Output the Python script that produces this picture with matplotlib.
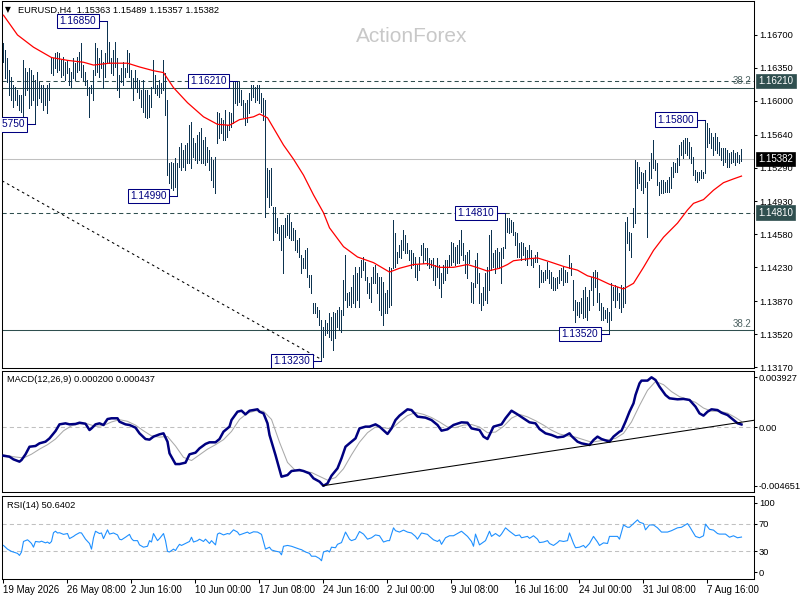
import numpy as np
import matplotlib
matplotlib.use("Agg")
import matplotlib.pyplot as plt
import matplotlib.transforms as mtransforms

plt.rcParams['font.family'] = ['Liberation Sans', 'DejaVu Sans']

# EURUSD H4 bars, oldest first (high / low)
highs = [
    1.1661, 1.1654, 1.1646, 1.1633, 1.1625, 1.1617, 1.1615, 1.1612, 1.1606, 1.1606,
    1.1643, 1.1635, 1.1631, 1.1635, 1.1633, 1.1627, 1.1622, 1.1631, 1.1620, 1.1617,
    1.1617, 1.1614, 1.1617, 1.1619, 1.1647, 1.1646, 1.1651, 1.1652, 1.1651, 1.1643,
    1.1647, 1.1641, 1.1643, 1.1635, 1.1631, 1.1646, 1.1640, 1.1647, 1.1652, 1.1661,
    1.1638, 1.1631, 1.1622, 1.1615, 1.1617, 1.1633, 1.1661, 1.1656, 1.1646, 1.1654,
    1.1641, 1.1651, 1.1685, 1.1663, 1.1646, 1.1654, 1.1663, 1.1646, 1.1627, 1.1635,
    1.1641, 1.1635, 1.1654, 1.1651, 1.1633, 1.1624, 1.1633, 1.1624, 1.1622, 1.1612,
    1.1622, 1.1612, 1.1612, 1.1606, 1.1615, 1.1643, 1.1627, 1.1617, 1.1622, 1.1619,
    1.1643, 1.1630, 1.1601, 1.1534, 1.1535, 1.1534, 1.1539, 1.1534, 1.1551, 1.1555,
    1.1548, 1.1553, 1.1555, 1.1574, 1.1578, 1.1561, 1.1555, 1.1564, 1.1567, 1.1571,
    1.1558, 1.1562, 1.1551, 1.1548, 1.1540, 1.1537, 1.1540, 1.1588, 1.1587, 1.1582,
    1.1580, 1.1590, 1.1574, 1.1588, 1.1587, 1.1620, 1.1620, 1.1621, 1.1620, 1.1612,
    1.1601, 1.1598, 1.1601, 1.1608, 1.1617, 1.1617, 1.1615, 1.1617, 1.1617, 1.1608,
    1.1603, 1.1601, 1.1529, 1.1526, 1.1529, 1.1487, 1.1487, 1.1475, 1.1466, 1.1468,
    1.1468, 1.1475, 1.1479, 1.1480, 1.1471, 1.1465, 1.1463, 1.1452, 1.1454, 1.1436,
    1.1433, 1.1441, 1.1444, 1.1415, 1.1415, 1.1385, 1.1385, 1.1381, 1.1378, 1.1367,
    1.1360, 1.1367, 1.1364, 1.1374, 1.1370, 1.1376, 1.1374, 1.1378, 1.1381, 1.1378,
    1.1410, 1.1436, 1.1396, 1.1397, 1.1402, 1.1415, 1.1423, 1.1417, 1.1423, 1.1431,
    1.1434, 1.1429, 1.1413, 1.1406, 1.1413, 1.1423, 1.1426, 1.1417, 1.1413, 1.1413,
    1.1407, 1.1396, 1.1399, 1.1423, 1.1422, 1.1473, 1.1460, 1.1439, 1.1447, 1.1452,
    1.1463, 1.1457, 1.1449, 1.1441, 1.1441, 1.1438, 1.1434, 1.1426, 1.1434, 1.1447,
    1.1449, 1.1444, 1.1444, 1.1433, 1.1431, 1.1433, 1.1426, 1.1433, 1.1426, 1.1417,
    1.1426, 1.1431, 1.1431, 1.1436, 1.1450, 1.1449, 1.1445, 1.1447, 1.1452, 1.1463,
    1.1449, 1.1436, 1.1439, 1.1441, 1.1407, 1.1406, 1.1431, 1.1438, 1.1417, 1.1396,
    1.1402, 1.1417, 1.1423, 1.1457, 1.1463, 1.1438, 1.1441, 1.1444, 1.1439, 1.1444,
    1.1445, 1.1481, 1.1475, 1.1475, 1.1473, 1.1471, 1.1461, 1.1460, 1.1449, 1.1450,
    1.1449, 1.1445, 1.1441, 1.1447, 1.1441, 1.1433, 1.1436, 1.1439, 1.1426, 1.1420,
    1.1418, 1.1420, 1.1429, 1.1420, 1.1418, 1.1413, 1.1412, 1.1413, 1.1420, 1.1422,
    1.1423, 1.1420, 1.1418, 1.1436, 1.1428, 1.1410, 1.1388, 1.1386, 1.1386, 1.1390,
    1.1399, 1.1402, 1.1391, 1.1399, 1.1413, 1.1418, 1.1420, 1.1418, 1.1396, 1.1385,
    1.1381, 1.1378, 1.1380, 1.1376, 1.1406, 1.1402, 1.1404, 1.1402, 1.1396, 1.1404,
    1.1402, 1.1471, 1.1477, 1.1461, 1.1460, 1.1486, 1.1537, 1.1535, 1.1530, 1.1524,
    1.1523, 1.1526, 1.1514, 1.1535, 1.1545, 1.1558, 1.1537, 1.1534, 1.1514, 1.1516,
    1.1516, 1.1514, 1.1516, 1.1519, 1.1530, 1.1535, 1.1534, 1.1539, 1.1553, 1.1556,
    1.1558, 1.1561, 1.1561, 1.1556, 1.1551, 1.1540, 1.1526, 1.1524, 1.1524, 1.1526,
    1.1524, 1.1580, 1.1576, 1.1571, 1.1566, 1.1562, 1.1566, 1.1562, 1.1556, 1.1550,
    1.1550, 1.1550, 1.1548, 1.1545, 1.1546, 1.1548, 1.1545, 1.1546, 1.1542, 1.15489,
]
lows = [
    1.1641, 1.1624, 1.1620, 1.1606, 1.1601, 1.1593, 1.1601, 1.1596, 1.1590, 1.1588,
    1.1582, 1.1606, 1.1612, 1.1592, 1.1596, 1.1601, 1.1575, 1.1596, 1.1603, 1.1599,
    1.1590, 1.1596, 1.1587, 1.1601, 1.1630, 1.1627, 1.1635, 1.1631, 1.1633, 1.1625,
    1.1627, 1.1622, 1.1630, 1.1617, 1.1615, 1.1624, 1.1622, 1.1631, 1.1633, 1.1625,
    1.1622, 1.1617, 1.1606, 1.1583, 1.1608, 1.1601, 1.1627, 1.1631, 1.1625, 1.1635,
    1.1614, 1.1625, 1.1641, 1.1640, 1.1630, 1.1627, 1.1636, 1.1612, 1.1604, 1.1620,
    1.1617, 1.1625, 1.1631, 1.1625, 1.1614, 1.1601, 1.1614, 1.1609, 1.1603, 1.1593,
    1.1588, 1.1583, 1.1582, 1.1583, 1.1593, 1.1614, 1.1608, 1.1606, 1.1604, 1.1608,
    1.1612, 1.1585, 1.1521, 1.1513, 1.1507, 1.1505, 1.1508, 1.1499, 1.1530, 1.1526,
    1.1530, 1.1526, 1.1534, 1.1534, 1.1529, 1.1540, 1.1537, 1.1534, 1.1537, 1.1534,
    1.1534, 1.1532, 1.1535, 1.1526, 1.1516, 1.1508, 1.1502, 1.1555, 1.1561, 1.1566,
    1.1558, 1.1558, 1.1562, 1.1569, 1.1572, 1.1576, 1.1598, 1.1596, 1.1599, 1.1596,
    1.1583, 1.1574, 1.1578, 1.1587, 1.1601, 1.1604, 1.1599, 1.1601, 1.1598, 1.1588,
    1.1580, 1.1477, 1.1498, 1.1487, 1.1489, 1.1452, 1.1461, 1.1460, 1.1452, 1.1441,
    1.1417, 1.1455, 1.1457, 1.1454, 1.1452, 1.1452, 1.1441, 1.1439, 1.1434, 1.1417,
    1.1422, 1.1422, 1.1413, 1.1402, 1.1396, 1.1374, 1.1374, 1.1370, 1.1362, 1.1323,
    1.1328, 1.1351, 1.1353, 1.1349, 1.1346, 1.1335, 1.1348, 1.1360, 1.1356, 1.1354,
    1.1372, 1.1388, 1.1381, 1.1383, 1.1381, 1.1385, 1.1381, 1.1388, 1.1381, 1.1413,
    1.1420, 1.1410, 1.1396, 1.1390, 1.1386, 1.1406, 1.1406, 1.1396, 1.1378, 1.1372,
    1.1362, 1.1374, 1.1374, 1.1381, 1.1383, 1.1422, 1.1423, 1.1428, 1.1434, 1.1433,
    1.1441, 1.1438, 1.1438, 1.1431, 1.1422, 1.1426, 1.1413, 1.1410, 1.1420, 1.1436,
    1.1428, 1.1431, 1.1426, 1.1422, 1.1423, 1.1410, 1.1404, 1.1413, 1.1401, 1.1391,
    1.1406, 1.1410, 1.1417, 1.1423, 1.1426, 1.1429, 1.1426, 1.1428, 1.1428, 1.1436,
    1.1431, 1.1417, 1.1412, 1.1428, 1.1386, 1.1385, 1.1402, 1.1406, 1.1385, 1.1378,
    1.1383, 1.1388, 1.1385, 1.1399, 1.1420, 1.1423, 1.1417, 1.1423, 1.1422, 1.1406,
    1.1433, 1.1444, 1.1461, 1.1460, 1.1461, 1.1457, 1.1447, 1.1434, 1.1434, 1.1431,
    1.1436, 1.1431, 1.1426, 1.1434, 1.1426, 1.1423, 1.1429, 1.1429, 1.1402, 1.1407,
    1.1407, 1.1410, 1.1412, 1.1406, 1.1401, 1.1399, 1.1399, 1.1401, 1.1406, 1.1410,
    1.1404, 1.1407, 1.1407, 1.1422, 1.1415, 1.1378, 1.1365, 1.1372, 1.1370, 1.1374,
    1.1369, 1.1370, 1.1367, 1.1378, 1.1399, 1.1383, 1.1402, 1.1386, 1.1378, 1.1367,
    1.1367, 1.1369, 1.1365, 1.1352, 1.1367, 1.1388, 1.1381, 1.1388, 1.1380, 1.1376,
    1.1381, 1.1385, 1.1449, 1.1441, 1.1434, 1.1466, 1.1470, 1.1507, 1.1513, 1.1505,
    1.1502, 1.1508, 1.1455, 1.1516, 1.1518, 1.1529, 1.1526, 1.1511, 1.1500, 1.1502,
    1.1502, 1.1503, 1.1503, 1.1503, 1.1507, 1.1519, 1.1524, 1.1524, 1.1532, 1.1542,
    1.1539, 1.1545, 1.1542, 1.1539, 1.1534, 1.1521, 1.1516, 1.1514, 1.1516, 1.1518,
    1.1518, 1.1523, 1.1551, 1.1555, 1.1550, 1.1542, 1.1548, 1.1545, 1.1542, 1.1537,
    1.1532, 1.1535, 1.1530, 1.1530, 1.1534, 1.1535, 1.1532, 1.1535, 1.1534, 1.15357,
]
last_close = 1.15382

# red moving average, sampled along the bars
ma_idx = [0, 7, 15, 24, 32, 40, 45, 53, 62, 68, 75, 80, 85, 92, 100, 107, 113, 118, 125, 128,
          132, 140, 145, 150, 155, 160, 163, 170, 177, 185, 193, 198, 205, 212, 218, 225, 232, 238, 242, 248,
          252, 255, 262, 267, 273, 280, 287, 292, 297, 303, 310, 315, 320, 325, 330, 337, 342, 345, 350, 355,
          360, 365, 369]
ma_val = [1.1691, 1.1670, 1.1657, 1.1646, 1.1643, 1.1641, 1.1638, 1.1640, 1.1640, 1.1636,
          1.1632, 1.1630, 1.1614, 1.1598, 1.1583, 1.1575, 1.1574, 1.1580, 1.1583, 1.1586,
          1.1582, 1.1553, 1.1538, 1.1521, 1.1500, 1.1481, 1.1465, 1.1445, 1.1434, 1.1428,
          1.1418, 1.1422, 1.1426, 1.1427, 1.1423, 1.1423, 1.1426, 1.1422, 1.1419, 1.1422,
          1.1426, 1.1430, 1.1432, 1.1433, 1.1429, 1.1424, 1.1420, 1.1414, 1.1411, 1.1405,
          1.1400, 1.1406, 1.1423, 1.1441, 1.1455, 1.1470, 1.1484, 1.1491, 1.1495, 1.1505,
          1.1513, 1.1517, 1.1520]

# MACD(12,26,9) main line and signal
macd_idx = [0, 3, 5, 8, 9, 11, 13, 16, 18, 21, 23, 26, 28, 31, 33, 36, 38, 41, 43, 44,
            46, 48, 50, 52, 54, 57, 58, 61, 63, 66, 68, 71, 73, 75, 78, 80, 82, 83, 86, 88,
            91, 93, 96, 98, 101, 103, 106, 108, 110, 113, 114, 117, 119, 121, 123, 127, 128, 130, 132, 133,
            136, 139, 142, 144, 148, 150, 153, 155, 158, 160, 162, 164, 167, 169, 171, 173, 176, 178, 181, 183,
            186, 188, 192, 194, 196, 198, 202, 204, 207, 211, 214, 217, 219, 222, 225, 229, 232, 234, 238, 240,
            242, 243, 245, 249, 251, 254, 257, 260, 263, 266, 268, 271, 274, 277, 280, 283, 284, 287, 289, 293,
            295, 297, 299, 303, 305, 308, 309, 311, 313, 315, 316, 318, 319, 322, 324, 326, 328, 331, 333, 337,
            340, 343, 346, 348, 350, 352, 354, 357, 359, 362, 364, 367, 369]
macd_val = [-0.00227, -0.00235, -0.00256, -0.00274, -0.00261, -0.00216, -0.00156, -0.00150, -0.00129, -0.00116,
            -0.00090, -0.00032, 0.00021, 0.00029, 0.00021, 0.00024, 0.00034, 0.00026, -0.00024, -0.00011,
            0.00021, 0.00029, 0.00016, 0.00063, 0.00069, 0.00069, 0.00042, 0.00021, 0.00016, -0.00005,
            -0.00050, -0.00095, -0.00100, -0.00076, -0.00058, -0.00050, -0.00116, -0.00208, -0.00293, -0.00293,
            -0.00282, -0.00216, -0.00203, -0.00169, -0.00134, -0.00121, -0.00121, -0.00095, -0.00037, 0.00003,
            0.00055, 0.00121, 0.00129, 0.00100, 0.00129, 0.00140, 0.00121, 0.00108, 0.00029, -0.00063,
            -0.00222, -0.00393, -0.00380, -0.00348, -0.00340, -0.00348, -0.00367, -0.00406, -0.00432, -0.00465,
            -0.00446, -0.00385, -0.00327, -0.00248, -0.00156, -0.00129, -0.00090, -0.00011, 0.00003, 0.00003,
            0.00021, 0.00003, -0.00055, -0.00011, 0.00055, 0.00090, 0.00140, 0.00134, 0.00082, 0.00074,
            0.00055, 0.00016, -0.00029, -0.00018, 0.00016, 0.00037, 0.00034, -0.00011, -0.00024, -0.00076,
            -0.00095, -0.00063, 0.00003, 0.00021, 0.00069, 0.00129, 0.00100, 0.00069, 0.00037, 0.00029,
            -0.00016, -0.00050, -0.00063, -0.00082, -0.00076, -0.00050, -0.00071, -0.00116, -0.00129, -0.00142,
            -0.00103, -0.00076, -0.00095, -0.00116, -0.00076, -0.00037, -0.00029, 0.00042, 0.00121, 0.00187,
            0.00253, 0.00345, 0.00367, 0.00367, 0.00393, 0.00372, 0.00319, 0.00253, 0.00227, 0.00219,
            0.00222, 0.00214, 0.00161, 0.00108, 0.00090, 0.00121, 0.00140, 0.00134, 0.00113, 0.00095,
            0.00069, 0.00030, 0.00020]
sig_idx = [0, 5] + list(range(10, 367, 4)) + [369]
sig_val = [-0.00220, -0.00235, -0.00245, -0.00215, -0.00175, -0.00140, -0.00095, -0.00030, 0.00010, 0.00025,
           0.00025, 0.00005, 0.00012, 0.00040, 0.00058, 0.00045, 0.00015, -0.00030, -0.00070, -0.00080,
           -0.00075, -0.00150, -0.00240, -0.00265, -0.00220, -0.00175, -0.00140, -0.00100, -0.00035, 0.00060,
           0.00110, 0.00128, 0.00125, 0.00060, -0.00120, -0.00280, -0.00345, -0.00350, -0.00360, -0.00390,
           -0.00420, -0.00400, -0.00330, -0.00220, -0.00120, -0.00045, 0.00000, -0.00005, -0.00015, 0.00040,
           0.00090, 0.00115, 0.00100, 0.00075, 0.00040, 0.00000, -0.00005, 0.00015, 0.00020, 0.00000,
           -0.00045, -0.00040, 0.00005, 0.00070, 0.00100, 0.00080, 0.00050, 0.00015, -0.00025, -0.00055,
           -0.00070, -0.00080, -0.00100, -0.00120, -0.00110, -0.00100, -0.00090, -0.00050, 0.00040, 0.00170,
           0.00290, 0.00360, 0.00335, 0.00280, 0.00240, 0.00220, 0.00195, 0.00150, 0.00125, 0.00125,
           0.00110, 0.00075, 0.00044]

# RSI(14)
rsi_idx = [0, 2, 4, 7, 8, 9, 10, 12, 13, 14, 15, 16, 18, 19, 21, 22, 23, 24, 25, 26,
           27, 28, 30, 32, 33, 35, 36, 38, 39, 41, 43, 44, 45, 46, 48, 49, 50, 52, 53, 55,
           57, 58, 59, 61, 63, 64, 65, 67, 68, 70, 72, 73, 74, 75, 77, 78, 80, 81, 82, 83,
           85, 86, 87, 88, 89, 91, 93, 94, 95, 97, 98, 100, 101, 103, 104, 106, 107, 108, 110, 112,
           113, 115, 117, 118, 120, 122, 123, 125, 127, 129, 131, 133, 134, 136, 138, 139, 140, 142, 144, 146,
           148, 149, 151, 153, 154, 156, 158, 159, 160, 162, 163, 164, 166, 167, 169, 171, 173, 174, 176, 178,
           180, 182, 184, 186, 188, 190, 192, 193, 195, 196, 198, 200, 202, 204, 206, 207, 209, 212, 213, 215,
           217, 218, 219, 221, 223, 225, 227, 229, 232, 234, 235, 236, 238, 239, 241, 243, 244, 246, 248, 249,
           251, 253, 256, 258, 259, 262, 263, 265, 267, 268, 270, 272, 273, 275, 277, 278, 280, 282, 283, 285,
           286, 288, 290, 291, 293, 295, 297, 298, 300, 302, 303, 305, 307, 308, 310, 312, 313, 315, 317, 318,
           320, 321, 323, 325, 327, 329, 332, 334, 337, 339, 342, 343, 346, 348, 350, 351, 353, 355, 357, 358,
           361, 363, 365, 367, 369]
rsi_val = [38.6, 33.3, 30.0, 27.2, 24.3, 29.2, 44.3, 46.7, 44.3, 41.4, 36.1, 44.3, 43.5, 44.7, 42.3, 43.5, 41.4, 44.3, 56.9, 59.0,
           56.5, 56.9, 54.5, 55.7, 48.4, 51.6, 53.7, 56.9, 56.5, 47.6, 41.4, 33.3, 49.6, 59.0, 55.7, 56.5, 48.4, 61.0, 54.9, 56.5,
           53.7, 47.6, 46.7, 50.4, 54.5, 48.4, 45.5, 45.5, 39.4, 36.1, 37.4, 45.5, 43.5, 55.7, 45.5, 48.4, 55.7, 45.5, 30.0, 29.2,
           33.3, 31.2, 36.1, 40.2, 38.6, 41.4, 44.3, 50.4, 43.5, 45.5, 47.6, 44.3, 47.6, 41.4, 45.5, 39.4, 54.9, 56.5, 53.7, 55.7,
           54.9, 61.0, 57.8, 53.7, 55.7, 57.8, 55.7, 58.2, 57.8, 54.5, 33.3, 36.1, 32.1, 30.4, 29.2, 25.1, 37.4, 38.6, 37.4, 35.3,
           33.3, 32.5, 29.2, 27.2, 23.1, 23.1, 19.8, 16.6, 29.2, 31.2, 29.2, 36.1, 35.3, 40.2, 42.7, 57.8, 47.6, 45.5, 47.6, 58.6,
           54.9, 47.6, 49.6, 53.7, 52.5, 43.5, 45.5, 45.5, 63.9, 59.8, 57.8, 60.6, 57.8, 56.5, 51.6, 47.6, 56.5, 54.5, 51.6, 46.7,
           44.3, 46.7, 40.2, 49.6, 52.5, 52.5, 55.7, 59.0, 51.6, 44.3, 37.4, 54.9, 39.4, 41.4, 45.5, 59.0, 51.6, 55.7, 51.6, 54.9,
           63.9, 59.0, 52.5, 53.7, 49.6, 51.6, 48.8, 52.5, 47.6, 42.7, 43.5, 45.5, 41.4, 38.6, 42.7, 45.5, 44.3, 45.5, 56.5, 41.4,
           35.3, 36.1, 38.6, 35.3, 41.4, 51.6, 43.5, 38.6, 42.3, 41.4, 51.6, 51.6, 51.6, 47.6, 68.0, 64.7, 64.7, 70.0, 75.3, 72.0,
           70.0, 61.0, 68.0, 68.0, 63.9, 57.8, 57.8, 59.8, 63.9, 64.7, 70.0, 65.9, 51.6, 49.6, 52.5, 69.2, 61.8, 60.6, 55.7, 54.9,
           54.9, 50.4, 52.5, 49.6, 50.6402]

# time axis
date_pos = [0, 32, 64, 96, 128, 160, 192, 224, 256, 288, 320, 352]
date_labels = ['19 May 2026', '26 May 08:00', '2 Jun 16:00', '10 Jun 00:00', '17 Jun 08:00',
               '24 Jun 16:00', '2 Jul 00:00', '9 Jul 08:00', '16 Jul 16:00', '24 Jul 00:00',
               '31 Jul 08:00', '7 Aug 16:00']

price_ticks = [1.16700, 1.16350, 1.16000, 1.15640, 1.15290, 1.14930,
               1.14580, 1.14230, 1.13870, 1.13520, 1.13170]
macd_ticks = [0.003927, 0.0, -0.004651]
macd_tick_labels = ['0.003927', '0.00', '-0.004651']
rsi_ticks = [100, 70, 30, 0]

# swing highs/lows marked with a price box: (bar index, price)
swing_marks = [(52, 1.16850), (16, 1.15750), (117, 1.16210), (87, 1.14990),
               (159, 1.13230), (251, 1.14810), (303, 1.13520), (351, 1.15800)]

# horizontal levels
fib_upper = 1.16140    # solid, 38.2
fib_lower = 1.13560    # solid, 38.2
dash_levels = [1.16210, 1.14810]
trend_price = [(-0.75, 1.1515), (159, 1.1325)]
trend_macd = [(159.5, -0.00465), (376, 0.00055)]

BAR_COL = '#0d3350'
SLATE = '#2F4F4F'
FS = 6.7

W, H = 800, 600
fig = plt.figure(figsize=(8, 6), dpi=100)
fig.patch.set_facecolor('white')


def px_axes(x0, y0, x1, y1):
    return fig.add_axes([x0 / W, 1 - y1 / H, (x1 - x0) / W, (y1 - y0) / H])


ax = px_axes(2, 1, 754, 368)
ax_m = px_axes(2, 371, 754, 492)
ax_r = px_axes(2, 496, 754, 579)

xlim = (-0.75, 375.25)
for a in (ax, ax_m, ax_r):
    a.set_xlim(*xlim)
    for s in a.spines.values():
        s.set_linewidth(0.75)
        s.set_color('black')
    a.yaxis.tick_right()
    a.tick_params(axis='y', which='both', direction='out', length=2.2, width=0.75,
                  pad=1.3, labelsize=FS, colors='black')
    a.tick_params(axis='x', bottom=False, labelbottom=False)

# ---- price panel
ax.set_ylim(1.13160, 1.17061)
idx = np.arange(len(highs))
blend = mtransforms.blended_transform_factory(ax.transAxes, ax.transData)

ax.axhline(last_close, color='#C0C0C0', lw=0.75, zorder=1)
ax.axhline(fib_upper, color=SLATE, lw=0.75, zorder=1)
ax.axhline(fib_lower, color=SLATE, lw=0.75, zorder=1)
for lv in dash_levels:
    ax.axhline(lv, color=SLATE, lw=0.75, ls=(0, (4, 3)), zorder=1)
ax.plot([p[0] for p in trend_price], [p[1] for p in trend_price],
        color='black', lw=0.75, ls=(0, (2.5, 3)), zorder=2)

ax.vlines(idx, lows, highs, colors=BAR_COL, lw=0.72, antialiased=False, zorder=3)
ax.plot(ma_idx, ma_val, color='#FF0000', lw=0.9, zorder=4)

for lv in (fib_upper, fib_lower):
    ax.annotate('38.2', xy=(1, lv), xycoords=blend, xytext=(-2, 1),
                textcoords='offset points', ha='right', va='bottom',
                fontsize=FS + 0.3, color='#4f6363')

for bi, pr in swing_marks:
    ax.plot([bi - 4.5, bi], [pr, pr], color='#000080', lw=0.75, zorder=5)
    ax.text(bi - 5.6, pr, '%.5f' % pr, ha='right', va='center', fontsize=FS + 0.6,
            color='#000080', zorder=6, clip_on=True,
            bbox=dict(boxstyle='square,pad=0.22', fc='white', ec='#000080', lw=0.75))

ax.set_yticks(price_ticks)
ax.set_yticklabels(['%.5f' % t for t in price_ticks])

# price boxes on the right scale
for pr, bg in [(1.16210, SLATE), (last_close, 'black'), (1.14810, SLATE)]:
    ax.text(1.0055, pr, '%.5f' % pr, transform=blend, ha='left', va='center',
            fontsize=FS + 0.3, color='white', zorder=10, clip_on=False,
            bbox=dict(boxstyle='square,pad=0.25', fc=bg, ec=bg, lw=0.5))

ax.text(0.545, 0.903, 'ActionForex', transform=ax.transAxes, ha='center', va='center',
        fontsize=15, color='#C8C8C8', zorder=0)
fig.text(5 / W, 1 - 10 / H, '\u25bc', fontsize=5.5, va='center', ha='left',
         family=['DejaVu Sans'])
fig.text(18 / W, 1 - 10 / H, 'EURUSD,H4  1.15363 1.15489 1.15357 1.15382',
         fontsize=FS, va='center', ha='left')

# ---- MACD panel
ax_m.set_ylim(-0.00514, 0.00443)
ax_m.axhline(0, color='#C0C0C0', lw=0.75, ls=(0, (4, 3)))
ax_m.plot(sig_idx, sig_val, color='#A9A9A9', lw=0.75, zorder=2)
ax_m.plot(macd_idx, macd_val, color='#000080', lw=1.8, zorder=3)
ax_m.plot([p[0] for p in trend_macd], [p[1] for p in trend_macd], color='black', lw=0.75, zorder=4)
ax_m.set_yticks(macd_ticks)
ax_m.set_yticklabels(macd_tick_labels)
fig.text(7 / W, 1 - 379 / H, 'MACD(12,26,9) 0.000200 0.000437', fontsize=FS, va='center', ha='left')

# ---- RSI panel
ax_r.set_ylim(-9.6, 109.6)
for lv in (70, 30):
    ax_r.axhline(lv, color='#C0C0C0', lw=0.75, ls=(0, (4, 3)))
ax_r.plot(rsi_idx, rsi_val, color='#1E90FF', lw=0.8)
ax_r.set_yticks(rsi_ticks)
ax_r.set_yticklabels([str(t) for t in rsi_ticks])
fig.text(7 / W, 1 - 505 / H, 'RSI(14) 50.6402', fontsize=FS, va='center', ha='left')

ax_r.tick_params(axis='x', bottom=True, labelbottom=True, direction='out', length=3,
                 width=0.75, pad=1.5, labelsize=FS + 0.3)
ax_r.set_xticks(date_pos)
ax_r.set_xticklabels(date_labels)
for lbl in ax_r.get_xticklabels():
    lbl.set_ha('left')

fig.savefig('out.png', dpi=100)
